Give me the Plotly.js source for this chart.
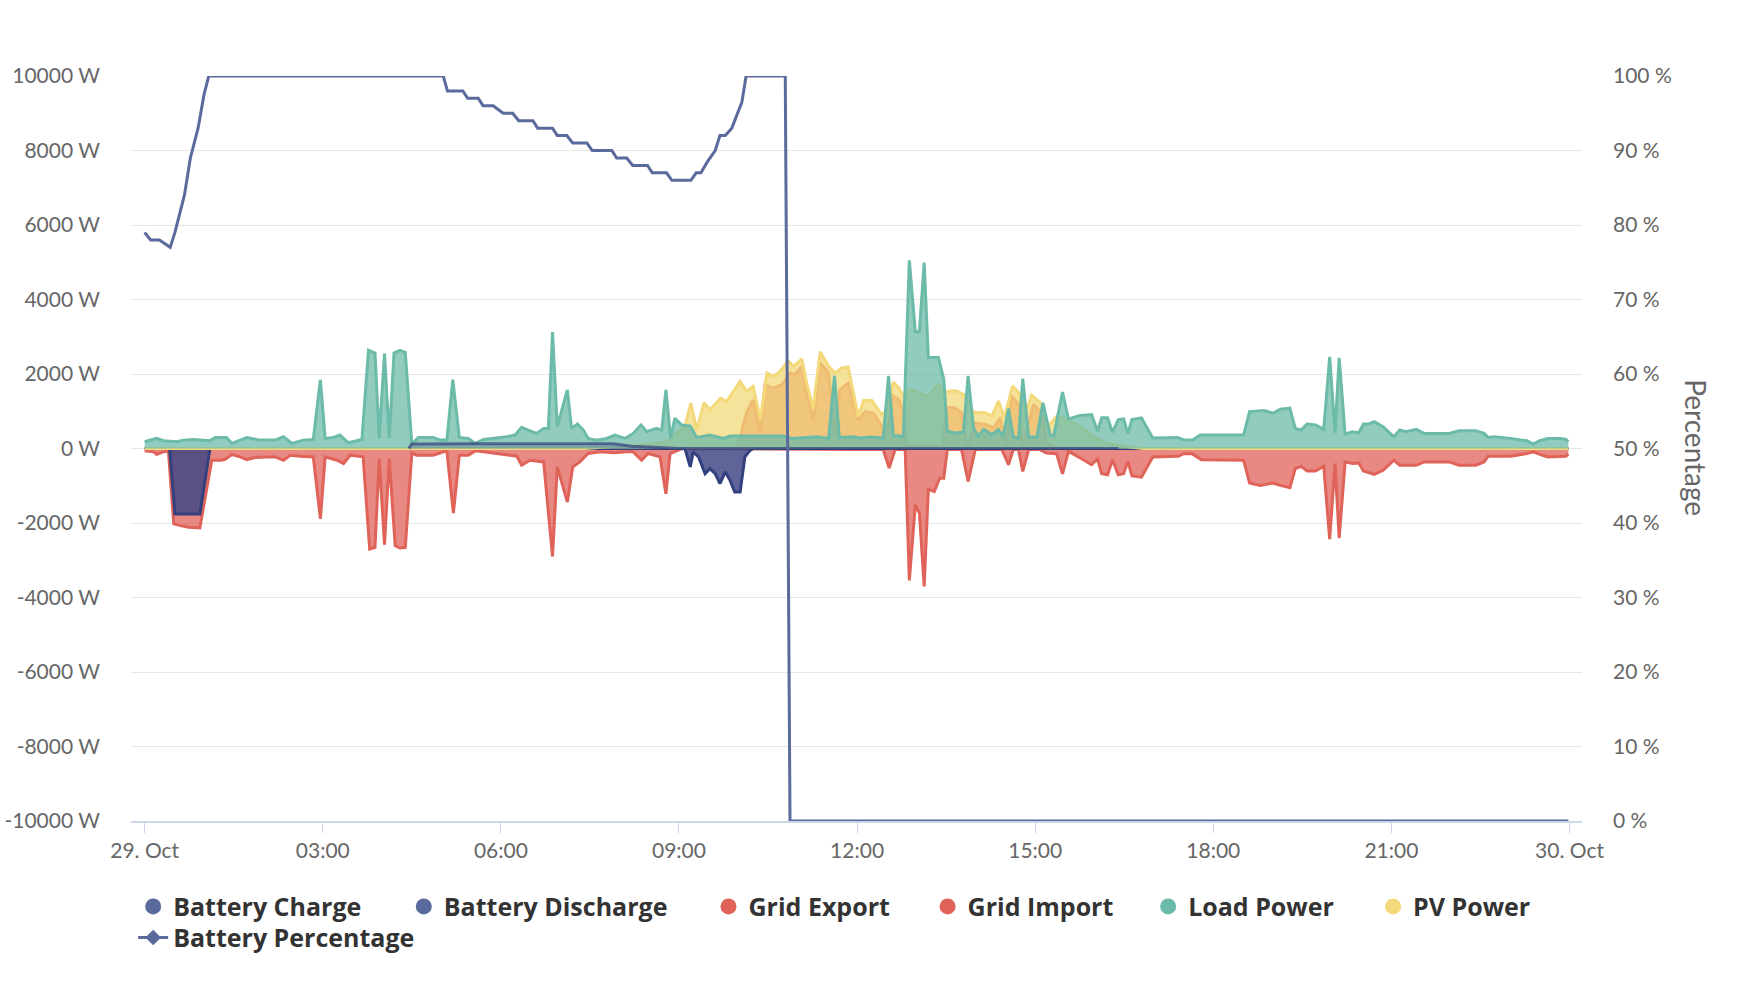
<!DOCTYPE html>
<html><head><meta charset="utf-8">
<script src="https://cdn.plot.ly/plotly-3.0.1.min.js"></script>
<style>html,body{margin:0;padding:0;background:#fff}#chart{width:1744px;height:986px}</style>
</head><body><div id="chart"></div>
<script>
// time axis in hours since 29 Oct 00:00
const xTickVals = [0, 3, 6, 9, 12, 15, 18, 21, 24];
const xTickLabels = ["29. Oct", "03:00", "06:00", "09:00", "12:00", "15:00", "18:00", "21:00", "30. Oct"];
const powerTicks = [-10000, -8000, -6000, -4000, -2000, 0, 2000, 4000, 6000, 8000, 10000];
const powerLabels = ["-10000 W", "-8000 W", "-6000 W", "-4000 W", "-2000 W", "0 W", "2000 W", "4000 W", "6000 W", "8000 W", "10000 W"];
const pctTicks = [0, 10, 20, 30, 40, 50, 60, 70, 80, 90, 100];
const pctLabels = ["0 %", "10 %", "20 %", "30 %", "40 %", "50 %", "60 %", "70 %", "80 %", "90 %", "100 %"];
const seriesNames = ["Battery Charge", "Battery Discharge", "Grid Export", "Grid Import", "Load Power", "PV Power", "Battery Percentage"];

const chargeT = [0, 0.42, 0.51, 0.93, 1.1, 9.1, 9.19, 9.24, 9.33, 9.44, 9.52, 9.61, 9.69, 9.78, 9.86, 9.94, 10.03, 10.11, 10.19, 10.25, 23.98];
const chargeW = [0, 0, -1760, -1760, 0, 0, -495, -90, -225, -675, -540, -675, -945, -630, -855, -1170, -1170, -225, -63, 0, 0];

const dischargeT = [4.45, 4.5, 5.5, 6.5, 7.9, 8.2, 8.8, 9.0, 16.4];
const dischargeW = [0, 120, 130, 130, 130, 60, 30, 0, 0];

const exportT = [0, 9.95, 10.03, 10.14, 10.25, 10.37, 10.45, 10.59, 10.73, 10.87, 10.95, 11.07, 11.15, 11.26, 11.38, 11.52, 11.62, 11.71, 11.85, 12.02, 12.14, 12.28, 12.41, 12.5, 12.61, 12.7, 12.78, 12.84, 13.43, 13.52, 13.65, 13.76, 13.85, 13.99, 14.16, 14.3, 14.41, 14.52, 14.6, 14.72, 14.79, 14.89, 14.97, 15.11, 15.19, 15.36, 23.98];
const exportW = [0, 0, 300, 970, 1305, 450, 1710, 1620, 1710, 2025, 1980, 2205, 1485, 765, 2295, 2025, 405, 1575, 1755, 765, 990, 945, 598, 328, 1408, 1318, 1003, 58, 58, 1093, 1093, 958, 0, 688, 643, 553, 823, 58, 1408, 1183, 58, 688, 1183, 958, 148, 0, 0];

const importT = [0, 0.15, 0.2, 0.32, 0.4, 0.49, 0.6, 0.74, 0.93, 1.13, 1.27, 1.35, 1.47, 1.61, 1.72, 1.86, 2.06, 2.2, 2.34, 2.45, 2.62, 2.84, 2.96, 3.04, 3.24, 3.35, 3.46, 3.68, 3.79, 3.88, 3.95, 4.04, 4.12, 4.22, 4.3, 4.39, 4.5, 4.58, 4.86, 5.09, 5.2, 5.3, 5.45, 5.57, 5.71, 5.99, 6.15, 6.27, 6.35, 6.49, 6.72, 6.87, 6.95, 7.12, 7.21, 7.33, 7.47, 7.67, 7.9, 8.12, 8.23, 8.37, 8.48, 8.68, 8.78, 8.85, 8.96, 9.05, 12.05, 12.44, 12.54, 12.64, 12.81, 12.88, 12.98, 13.05, 13.13, 13.2, 13.3, 13.39, 13.46, 13.52, 13.76, 13.87, 13.99, 14.44, 14.55, 14.63, 14.72, 14.79, 14.89, 15.08, 15.19, 15.36, 15.46, 15.56, 15.76, 15.95, 16.05, 16.12, 16.22, 16.3, 16.4, 16.49, 16.56, 16.63, 16.79, 16.98, 17.41, 17.5, 17.64, 17.8, 18.51, 18.61, 18.79, 19.0, 19.13, 19.29, 19.38, 19.48, 19.58, 19.72, 19.86, 19.96, 20.05, 20.12, 20.22, 20.34, 20.45, 20.53, 20.71, 20.86, 21.04, 21.14, 21.42, 21.55, 21.97, 22.14, 22.42, 22.56, 22.63, 23.01, 23.28, 23.39, 23.49, 23.63, 23.94, 23.98];
const importW = [-63, -90, -153, -90, -72, -2025, -2070, -2115, -2133, -315, -315, -297, -162, -225, -297, -243, -225, -225, -315, -180, -207, -225, -1890, -225, -315, -405, -180, -225, -2700, -2655, -270, -2583, -270, -2610, -2673, -2655, -117, -180, -180, -63, -1737, -180, -180, -63, -90, -135, -180, -207, -450, -315, -360, -2900, -495, -1440, -495, -360, -135, -90, -117, -90, -90, -315, -135, -225, -1215, -135, -63, 0, -30, -30, -526, -30, -30, -3541, -1516, -1741, -3703, -1093, -1156, -796, -796, -30, -30, -886, -30, -30, -436, -30, -30, -616, -30, -30, -120, -139, -679, -76, -256, -436, -283, -679, -706, -301, -706, -679, -346, -733, -769, -229, -211, -139, -139, -301, -315, -928, -991, -928, -991, -1054, -541, -478, -604, -604, -478, -2433, -405, -2406, -360, -405, -387, -604, -694, -586, -315, -450, -450, -360, -360, -450, -450, -360, -207, -207, -135, -90, -153, -225, -207, -153];

const pvT = [0, 7.4, 7.95, 8.34, 8.79, 9.02, 9.1, 9.2, 9.3, 9.42, 9.52, 9.7, 9.8, 10.03, 10.14, 10.25, 10.37, 10.48, 10.59, 10.7, 10.84, 10.93, 11.07, 11.15, 11.26, 11.38, 11.52, 11.63, 11.74, 11.85, 12.02, 12.11, 12.25, 12.41, 12.5, 12.61, 12.7, 12.78, 12.89, 13.03, 13.2, 13.37, 13.45, 13.57, 13.68, 13.79, 13.96, 14.16, 14.27, 14.38, 14.48, 14.62, 14.72, 14.83, 14.94, 15.08, 15.22, 15.36, 15.53, 15.76, 15.98, 16.2, 16.49, 16.82, 23.98];
const pvW = [0, 0, 60, 90, 180, 495, 603, 1215, 495, 1233, 1035, 1350, 1260, 1800, 1530, 1665, 765, 2025, 1935, 2070, 2350, 2205, 2403, 1755, 1080, 2600, 2205, 2025, 2160, 2187, 855, 1287, 1287, 913, 1003, 1786, 1633, 1408, 1588, 1498, 1408, 1723, 1498, 1543, 1543, 1453, 976, 958, 868, 1273, 823, 1678, 1498, 913, 1426, 1246, 598, 868, 778, 598, 328, 148, 58, 0, 0];

const loadT = [0, 0.09, 0.2, 0.32, 0.54, 0.65, 0.82, 1.1, 1.19, 1.38, 1.47, 1.72, 1.94, 2.2, 2.34, 2.48, 2.67, 2.84, 2.96, 3.04, 3.18, 3.29, 3.43, 3.66, 3.77, 3.88, 3.95, 4.04, 4.12, 4.2, 4.3, 4.39, 4.5, 4.61, 4.86, 4.98, 5.09, 5.19, 5.3, 5.45, 5.57, 5.71, 5.88, 6.1, 6.24, 6.35, 6.46, 6.6, 6.72, 6.8, 6.87, 6.95, 7.12, 7.19, 7.29, 7.39, 7.47, 7.61, 7.78, 7.92, 8.09, 8.23, 8.36, 8.46, 8.62, 8.71, 8.78, 8.86, 8.93, 9.05, 9.19, 9.3, 9.52, 9.75, 9.86, 10.03, 10.48, 10.76, 10.9, 11.1, 11.32, 11.52, 11.62, 11.7, 11.94, 12.05, 12.22, 12.44, 12.53, 12.61, 12.78, 12.88, 12.98, 13.05, 13.13, 13.2, 13.37, 13.46, 13.52, 13.65, 13.79, 13.87, 13.96, 14.04, 14.13, 14.27, 14.38, 14.46, 14.55, 14.63, 14.72, 14.79, 14.89, 15.03, 15.13, 15.25, 15.31, 15.46, 15.56, 15.76, 15.95, 16.05, 16.12, 16.22, 16.3, 16.4, 16.49, 16.56, 16.63, 16.79, 16.98, 17.4, 17.51, 17.65, 17.78, 18.51, 18.61, 18.86, 19.0, 19.13, 19.29, 19.38, 19.48, 19.58, 19.72, 19.86, 19.96, 20.05, 20.12, 20.22, 20.34, 20.45, 20.53, 20.62, 20.71, 20.86, 21.04, 21.14, 21.24, 21.42, 21.55, 21.97, 22.14, 22.42, 22.56, 22.63, 22.73, 23.01, 23.28, 23.39, 23.49, 23.63, 23.84, 23.94, 23.98];
const loadW = [180, 225, 270, 207, 180, 225, 243, 207, 297, 297, 135, 297, 225, 225, 315, 135, 225, 243, 1845, 270, 297, 360, 153, 243, 2637, 2565, 270, 2547, 270, 2565, 2637, 2583, 117, 297, 297, 225, 225, 1845, 297, 270, 135, 243, 270, 315, 360, 567, 495, 405, 540, 540, 3123, 585, 1575, 540, 657, 495, 270, 225, 270, 360, 270, 405, 630, 450, 540, 495, 1575, 270, 810, 630, 603, 297, 360, 270, 333, 333, 315, 333, 270, 297, 315, 270, 1953, 297, 315, 283, 310, 283, 1948, 346, 328, 5053, 3136, 3136, 4990, 2443, 2443, 1858, 463, 418, 436, 1948, 553, 328, 508, 373, 508, 328, 1066, 310, 283, 1876, 310, 310, 1228, 373, 328, 1516, 796, 886, 913, 463, 823, 823, 436, 778, 796, 400, 778, 823, 283, 297, 225, 225, 360, 360, 991, 1018, 946, 1054, 1081, 541, 496, 658, 631, 514, 2460, 423, 2433, 387, 450, 423, 658, 658, 721, 586, 315, 496, 450, 514, 405, 405, 478, 478, 405, 297, 315, 270, 207, 117, 207, 270, 270, 243, 180];

const socT = [0, 0.1, 0.25, 0.43, 0.51, 0.67, 0.77, 0.9, 1.0, 1.08, 5.03, 5.1, 5.36, 5.44, 5.62, 5.7, 5.87, 6.04, 6.2, 6.3, 6.54, 6.62, 6.87, 6.95, 7.11, 7.21, 7.45, 7.54, 7.87, 7.95, 8.12, 8.22, 8.47, 8.55, 8.79, 8.88, 9.2, 9.29, 9.37, 9.48, 9.61, 9.69, 9.78, 9.89, 10.06, 10.13, 10.79, 10.87, 23.98];
const socPct = [79, 78, 78, 77, 79, 84, 89, 93, 97.5, 100, 100, 98, 98, 97, 97, 96, 96, 95, 95, 94, 94, 93, 93, 92, 92, 91, 91, 90, 90, 89, 89, 88, 88, 87, 87, 86, 86, 87, 87, 88.5, 90, 92, 92, 93, 96.5, 100, 100, 0, 0];

const NAVY = '#5b6a9c', NAVY_DARK = '#34407e', RED = '#e0635a', TEAL = '#6cbba8', YELLOW = '#f3d97a';
const FONT = 'Lato, "Open Sans", sans-serif';
const LEGEND_FONT = '"Open Sans", Lato, sans-serif';

function area(x, y, line, fill) {
  return {x: x, y: y, type: 'scatter', mode: 'lines', fill: 'tozeroy', fillcolor: fill,
    line: {color: line, width: 3}, showlegend: false, hoverinfo: 'skip', xaxis: 'x', yaxis: 'y'};
}
const legendColors = [NAVY, NAVY, RED, RED, TEAL, YELLOW];
const legendX = [0.0015, 0.188, 0.398, 0.549, 0.701, 0.856];

const traces = [
  area(exportT, exportW, RED, 'rgba(224,99,90,0.75)'),
  area(importT, importW, RED, 'rgba(224,99,90,0.75)'),
  area(chargeT, chargeW, NAVY_DARK, 'rgba(62,68,132,0.83)'),
  area(pvT, pvW, YELLOW, 'rgba(243,217,122,0.75)'),
  area(loadT, loadW, TEAL, 'rgba(108,187,168,0.75)'),
  area(dischargeT, dischargeW, 'rgba(52,64,126,0.7)', 'rgba(91,106,156,0.35)'),
  {x: socT, y: socPct, type: 'scatter', mode: 'lines', line: {color: NAVY, width: 3},
   showlegend: false, hoverinfo: 'skip', xaxis: 'x', yaxis: 'y2'}
];
const tickFont = {family: FONT, size: 21, color: '#666666'};
const legendFont = {family: LEGEND_FONT, size: 25, color: '#333333', weight: 'bold'};

const layout = {
  width: 1744, height: 986,
  margin: {l: 131, r: 162, t: 76, b: 165},
  paper_bgcolor: '#ffffff', plot_bgcolor: '#ffffff',
  xaxis: {range: [-0.23, 24.21], tickmode: 'array', tickvals: xTickVals, ticktext: xTickLabels,
    showgrid: false, zeroline: false, showline: true, linecolor: '#ccd6eb', linewidth: 2,
    ticks: 'outside', ticklen: 10, tickwidth: 1, tickcolor: '#ccd6eb', tickfont: tickFont,
    ticklabelstandoff: 0, fixedrange: true},
  yaxis: {range: [-10000, 10000], tickmode: 'array', tickvals: powerTicks, ticktext: powerLabels,
    gridcolor: '#e6e6e6', gridwidth: 1, zeroline: false, showline: false, ticks: '',
    tickfont: tickFont, ticklabelstandoff: 30, fixedrange: true},
  yaxis2: {range: [0, 100], overlaying: 'y', side: 'right', tickmode: 'array', tickvals: pctTicks,
    ticktext: pctLabels, showgrid: false, zeroline: false, showline: false, ticks: '',
    tickfont: tickFont, ticklabelstandoff: 30, fixedrange: true},
  annotations: [{text: 'Percentage', xref: 'paper', yref: 'paper', x: 1.0786, y: 0.5016,
    xanchor: 'center', yanchor: 'middle',
    showarrow: false, textangle: 90, font: {family: FONT, size: 28, color: '#666666'}}],
  showlegend: true
};

for (let i = 0; i < 7; i++) {
  const key = i === 0 ? 'legend' : 'legend' + (i + 1);
  const isPct = i === 6;
  layout[key] = {orientation: 'h', x: isPct ? 0.0015 : legendX[i], xanchor: 'left',
    y: isPct ? -0.1567 : -0.115, yanchor: 'middle', font: legendFont,
    itemclick: false, itemdoubleclick: false, bgcolor: 'rgba(0,0,0,0)'};
  traces.push(isPct ?
    {x: [null], y: [null], type: 'scatter', mode: 'lines+markers', name: seriesNames[i],
     line: {color: NAVY, width: 3}, marker: {color: NAVY, size: 12, symbol: 'diamond'},
     legend: key, hoverinfo: 'skip'} :
    {x: [null], y: [null], type: 'scatter', mode: 'markers', name: seriesNames[i],
     marker: {color: legendColors[i], size: 18, symbol: 'circle'}, legend: key, hoverinfo: 'skip'});
}

Plotly.newPlot('chart', traces, layout, {displayModeBar: false, staticPlot: true});
</script></body></html>
